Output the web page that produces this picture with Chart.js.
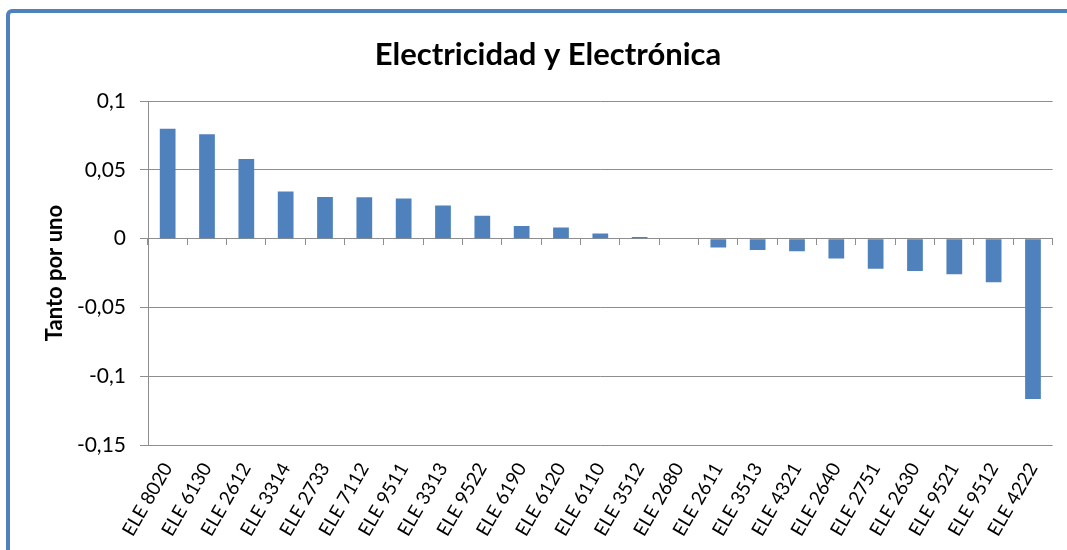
<!DOCTYPE html>
<html>
<head>
<meta charset="utf-8">
<script src="https://cdn.jsdelivr.net/npm/chart.js@4.4.1/dist/chart.umd.min.js"></script>
<style>
  html, body { margin: 0; padding: 0; background: #fff; overflow: hidden; }
  #frame { position: absolute; left: 6px; top: 9px; width: 1100px; height: 600px;
           border: 4px solid #4F81BD; border-radius: 6px; box-sizing: border-box; }
  #wrap { position: absolute; left: 0; top: 0; width: 1067px; height: 550px; }
</style>
</head>
<body>
<div id="frame"></div>
<div id="wrap"><canvas id="c" width="1067" height="550"></canvas></div>
<script>
const chartTitle = "Electricidad y Electrónica";
const yAxisTitle = "Tanto por uno";
const categories = ["ELE 8020","ELE 6130","ELE 2612","ELE 3314","ELE 2733","ELE 7112","ELE 9511","ELE 3313","ELE 9522","ELE 6190","ELE 6120","ELE 6110","ELE 3512","ELE 2680","ELE 2611","ELE 3513","ELE 4321","ELE 2640","ELE 2751","ELE 2630","ELE 9521","ELE 9512","ELE 4222"];
const values = [0.080,0.076,0.058,0.0344,0.0303,0.0302,0.0293,0.0242,0.0167,0.0092,0.0082,0.0038,0.0012,0,-0.0063,-0.0082,-0.0092,-0.0143,-0.0218,-0.0235,-0.0259,-0.0317,-0.1165];
const yMin = -0.15, yMax = 0.1, yStep = 0.05;

const gridColor = '#8E8E8E';
const padL = 42, padR = 13, padT = 1, padB = 0;

new Chart(document.getElementById('c'), {
  type: 'bar',
  data: {
    labels: categories,
    datasets: [{
      data: values,
      backgroundColor: '#4F81BD',
      borderWidth: 0,
      barPercentage: 0.4,
      categoryPercentage: 1.0,
      xAxisID: 'x'
    }]
  },
  options: {
    responsive: false,
    animation: false,
    layout: { padding: { left: padL, right: padR, top: padT, bottom: padB } },
    plugins: {
      legend: { display: false },
      tooltip: { enabled: false },
      title: {
        display: true,
        text: chartTitle,
        color: '#000',
        font: { family: 'Lato', size: 31, weight: 'bold' },
        padding: { top: 35, bottom: 28 }
      }
    },
    scales: {
      y: {
        min: yMin, max: yMax,
        ticks: {
          stepSize: yStep,
          color: '#000',
          padding: 14,
          font: { family: 'Lato', size: 21 },
          callback: (v) => String(Number(v.toFixed(2))).replace('.', ',')
        },
        grid: { color: gridColor, lineWidth: 1, tickLength: 8, drawTicks: true },
        border: { display: true, color: gridColor, width: 1 },
        title: {
          display: true, text: yAxisTitle, color: '#000',
          font: { family: 'Lato', size: 22, weight: 'bold' },
          padding: 0
        },
        afterFit: (s) => { s.width = 148 - padL; }
      },
      x: {
        position: 'bottom',
        offset: true,
        grid: { display: false, drawTicks: false },
        border: { display: false },
        ticks: {
          color: '#000',
          autoSkip: false,
          minRotation: 60, maxRotation: 60,
          padding: 14,
          font: { family: 'Lato', size: 19 }
        },
        afterFit: (s) => { s.height = 550 - 445 - padB; }
      },
      x2: {
        type: 'category',
        labels: categories,
        position: { y: 0 },
        offset: true,
        grid: { offset: true, drawOnChartArea: false, drawTicks: true, tickLength: 6, color: gridColor },
        border: { display: true, color: gridColor, width: 1 },
        ticks: { display: false },
        afterFit: (s) => { s.height = 0; }
      }
    }
  }
});
</script>
</body>
</html>
